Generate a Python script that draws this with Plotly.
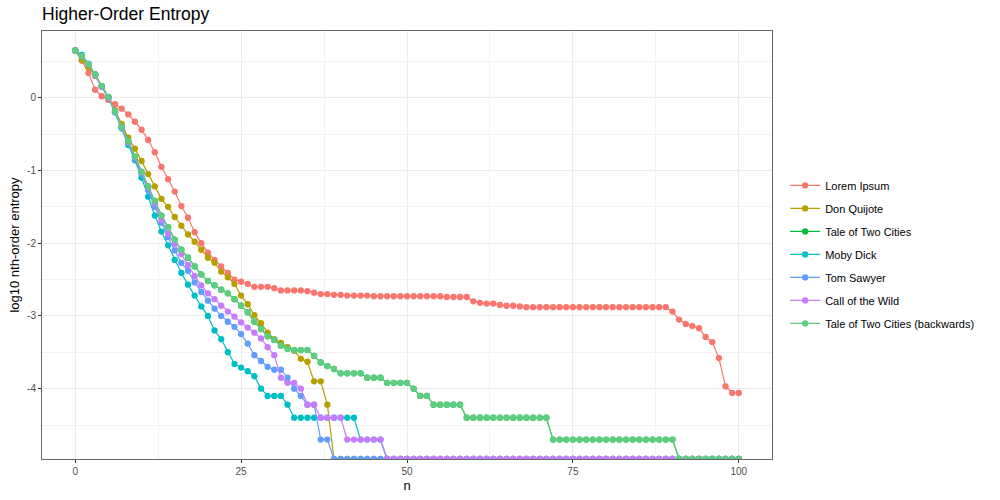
import math
import plotly.graph_objects as go

NEG = float("-inf")  # log10(0): drawn at the panel's lower edge, as ggplot does

n_values = list(range(0, 101))

series_names = ["Lorem Ipsum", "Don Quijote", "Tale of Two Cities", "Moby Dick",
                "Tom Sawyer", "Call of the Wild", "Tale of Two Cities (backwards)"]
series_colors = ["#F8766D", "#B79F00", "#00BA38", "#00BFC4", "#619CFF", "#C77CFF", "#5FCC80"]

lorem_ipsum = [
    0.65, 0.51, 0.34, 0.11, 0.02, -0.03, -0.09, -0.15, -0.23, -0.33,
    -0.44, -0.58, -0.75, -0.95, -1.12, -1.29, -1.49, -1.65, -1.85, -2.00,
    -2.13, -2.23, -2.32, -2.41, -2.50, -2.53, -2.56, -2.60, -2.60, -2.60,
    -2.62, -2.65, -2.65, -2.65, -2.65, -2.66, -2.68, -2.70, -2.70, -2.71,
    -2.71, -2.72, -2.72, -2.72, -2.72, -2.73, -2.73, -2.73, -2.73, -2.73,
    -2.73, -2.73, -2.73, -2.73, -2.73, -2.73, -2.74, -2.74, -2.74, -2.74,
    -2.80, -2.82, -2.83, -2.83, -2.85, -2.86, -2.86, -2.87, -2.88, -2.88,
    -2.88, -2.88, -2.88, -2.88, -2.88, -2.88, -2.88, -2.88, -2.88, -2.88,
    -2.88, -2.88, -2.88, -2.88, -2.88, -2.88, -2.88, -2.88, -2.88, -2.88,
    -2.94, -3.05, -3.11, -3.14, -3.17, -3.29, -3.36, -3.58, -3.97, -4.06,
    -4.06,
]

don_quijote = [
    0.65, 0.52, 0.42, 0.30, 0.15, 0.00, -0.17, -0.36, -0.55, -0.70,
    -0.87, -1.05, -1.22, -1.39, -1.50, -1.64, -1.76, -1.88, -1.98, -2.09,
    -2.20, -2.27, -2.39, -2.47, -2.56, -2.72, -2.84, -2.99, -3.10, -3.23,
    -3.32, -3.37, -3.43, -3.48, -3.59, -3.63, -3.90, -3.90, -4.22, NEG,
    NEG, NEG, NEG, NEG, NEG, NEG, NEG, NEG, NEG, NEG,
    NEG, NEG, NEG, NEG, NEG, NEG, NEG, NEG, NEG, NEG,
    NEG, NEG, NEG, NEG, NEG, NEG, NEG, NEG, NEG, NEG,
    NEG, NEG, NEG, NEG, NEG, NEG, NEG, NEG, NEG, NEG,
    NEG, NEG, NEG, NEG, NEG, NEG, NEG, NEG, NEG, NEG,
    NEG, NEG, NEG, NEG, NEG, NEG, NEG, NEG, NEG, NEG,
    NEG,
]

tale_of_two_cities = [
    0.65, 0.57, 0.46, 0.32, 0.16, 0.01, -0.19, -0.40, -0.60, -0.81,
    -1.02, -1.22, -1.42, -1.62, -1.78, -1.95, -2.09, -2.20, -2.32, -2.43,
    -2.52, -2.58, -2.64, -2.69, -2.77, -2.86, -2.95, -3.08, -3.18, -3.28,
    -3.33, -3.41, -3.45, -3.47, -3.47, -3.47, -3.55, -3.64, -3.69, -3.73,
    -3.79, -3.79, -3.79, -3.79, -3.85, -3.85, -3.85, -3.92, -3.92, -3.92,
    -3.92, -4.00, -4.10, -4.10, -4.22, -4.22, -4.22, -4.22, -4.22, -4.40,
    -4.40, -4.40, -4.40, -4.40, -4.40, -4.40, -4.40, -4.40, -4.40, -4.40,
    -4.40, -4.40, -4.70, -4.70, -4.70, -4.70, -4.70, -4.70, -4.70, -4.70,
    -4.70, -4.70, -4.70, -4.70, -4.70, -4.70, -4.70, -4.70, -4.70, -4.70,
    -4.70, NEG, NEG, NEG, NEG, NEG, NEG, NEG, NEG, NEG,
    NEG,
]

moby_dick = [
    0.65, 0.59, 0.47, 0.32, 0.16, 0.00, -0.20, -0.42, -0.65, -0.86,
    -1.10, -1.36, -1.62, -1.84, -2.03, -2.23, -2.41, -2.57, -2.72, -2.87,
    -3.00, -3.20, -3.32, -3.50, -3.66, -3.71, -3.76, -3.83, -4.00, -4.10,
    -4.10, -4.10, -4.22, -4.40, -4.40, -4.40, -4.40, -4.40, -4.40, -4.40,
    -4.40, -4.40, -4.40, -4.70, -4.70, -4.70, -4.70, NEG, NEG, NEG,
    NEG, NEG, NEG, NEG, NEG, NEG, NEG, NEG, NEG, NEG,
    NEG, NEG, NEG, NEG, NEG, NEG, NEG, NEG, NEG, NEG,
    NEG, NEG, NEG, NEG, NEG, NEG, NEG, NEG, NEG, NEG,
    NEG, NEG, NEG, NEG, NEG, NEG, NEG, NEG, NEG, NEG,
    NEG, NEG, NEG, NEG, NEG, NEG, NEG, NEG, NEG, NEG,
    NEG,
]

tom_sawyer = [
    0.65, 0.57, 0.46, 0.31, 0.15, 0.00, -0.20, -0.41, -0.62, -0.84,
    -1.05, -1.27, -1.50, -1.72, -1.92, -2.10, -2.27, -2.38, -2.54, -2.67,
    -2.79, -2.90, -3.00, -3.08, -3.15, -3.25, -3.38, -3.54, -3.62, -3.70,
    -3.74, -3.74, -3.85, -4.00, -4.10, -4.22, -4.22, -4.70, -4.70, NEG,
    NEG, NEG, NEG, NEG, NEG, NEG, NEG, NEG, NEG, NEG,
    NEG, NEG, NEG, NEG, NEG, NEG, NEG, NEG, NEG, NEG,
    NEG, NEG, NEG, NEG, NEG, NEG, NEG, NEG, NEG, NEG,
    NEG, NEG, NEG, NEG, NEG, NEG, NEG, NEG, NEG, NEG,
    NEG, NEG, NEG, NEG, NEG, NEG, NEG, NEG, NEG, NEG,
    NEG, NEG, NEG, NEG, NEG, NEG, NEG, NEG, NEG, NEG,
    NEG,
]

call_of_the_wild = [
    0.65, 0.57, 0.46, 0.31, 0.15, 0.00, -0.19, -0.40, -0.61, -0.82,
    -1.02, -1.23, -1.45, -1.68, -1.87, -2.01, -2.15, -2.30, -2.45, -2.58,
    -2.69, -2.77, -2.86, -2.94, -3.01, -3.09, -3.16, -3.23, -3.31, -3.43,
    -3.54, -3.85, -3.92, -3.92, -4.00, -4.22, -4.22, -4.40, -4.40, -4.40,
    -4.40, -4.70, -4.70, -4.70, -4.70, -4.70, -4.70, NEG, NEG, NEG,
    NEG, NEG, NEG, NEG, NEG, NEG, NEG, NEG, NEG, NEG,
    NEG, NEG, NEG, NEG, NEG, NEG, NEG, NEG, NEG, NEG,
    NEG, NEG, NEG, NEG, NEG, NEG, NEG, NEG, NEG, NEG,
    NEG, NEG, NEG, NEG, NEG, NEG, NEG, NEG, NEG, NEG,
    NEG, NEG, NEG, NEG, NEG, NEG, NEG, NEG, NEG, NEG,
    NEG,
]

# n-gram entropies are identical for reversed text
tale_backwards = list(tale_of_two_cities)

series_values = [lorem_ipsum, don_quijote, tale_of_two_cities, moby_dick,
                 tom_sawyer, call_of_the_wild, tale_backwards]

x_tick_vals = [0, 25, 50, 75, 100]
y_tick_vals = [0, -1, -2, -3, -4]
y_tick_text = ["0", "-1", "-2", "-3", "-4"]
y_minor_vals = [0.5, -0.5, -1.5, -2.5, -3.5, -4.5]

# ggplot-style continuous scale expansion (5% each side) on finite values
finite = [v for s in series_values for v in s if math.isfinite(v)]
ymin, ymax = min(finite), max(finite)
ypad = (ymax - ymin) * 0.05
y_range = [ymin - ypad, ymax + ypad]
xpad = (max(n_values) - min(n_values)) * 0.05
x_range = [min(n_values) - xpad, max(n_values) + xpad]

FONT = "Liberation Sans, Arial, Helvetica, sans-serif"

fig = go.Figure()
for i, (name, color, vals) in enumerate(zip(series_names, series_colors, series_values)):
    yv = [v if math.isfinite(v) else y_range[0] for v in vals]
    fig.add_trace(go.Scatter(
        x=n_values, y=yv, name=name, mode="lines+markers",
        line=dict(color=color, width=1.2),
        marker=dict(color=color, size=6.3),
        legendgroup=f"g{i}",
    ))

fig.update_layout(
    width=1000, height=500,
    margin=dict(l=42, r=228, t=31, b=41, autoexpand=False),
    paper_bgcolor="white", plot_bgcolor="white",
    font=dict(family=FONT, color="#000000"),
    title=dict(text="Higher-Order Entropy", x=42 / 1000, xanchor="left",
               y=1 - 14 / 500, yanchor="middle",
               font=dict(size=17.5, color="#000000", family=FONT)),
    legend=dict(x=1.018, xanchor="left", y=0.478, yanchor="middle",
                font=dict(size=11, color="#000000", family=FONT),
                tracegroupgap=4, bgcolor="rgba(0,0,0,0)"),
    showlegend=True,
)

fig.update_xaxes(
    automargin=False,
    range=x_range, tickvals=x_tick_vals, ticks="outside", ticklen=3,
    tickcolor="#333333", tickwidth=1,
    tickfont=dict(size=10, color="#4D4D4D", family=FONT),
    showgrid=True, gridcolor="#EBEBEB", gridwidth=1, zeroline=False,
    minor=dict(tickvals=[12.5, 37.5, 62.5, 87.5], showgrid=True,
               gridcolor="#F2F2F2", gridwidth=0.6, ticks=""),
    showline=True, linecolor="#666666", linewidth=1, mirror=True,
    title=dict(text="n", font=dict(size=13, color="#000000", family=FONT), standoff=4),
)
fig.update_yaxes(
    automargin=False,
    range=y_range, tickvals=y_tick_vals, ticktext=y_tick_text, ticks="outside",
    ticklen=3, tickcolor="#333333", tickwidth=1,
    tickfont=dict(size=10, color="#4D4D4D", family=FONT),
    showgrid=True, gridcolor="#EBEBEB", gridwidth=1, zeroline=False,
    minor=dict(tickvals=y_minor_vals, showgrid=True,
               gridcolor="#F2F2F2", gridwidth=0.6, ticks=""),
    showline=True, linecolor="#666666", linewidth=1, mirror=True,
    title=dict(text="log10 nth-order entropy",
               font=dict(size=13, color="#000000", family=FONT), standoff=4),
)

fig.write_html("out.html", config={"displayModeBar": False},
               post_script="document.body.style.margin='0px';")
